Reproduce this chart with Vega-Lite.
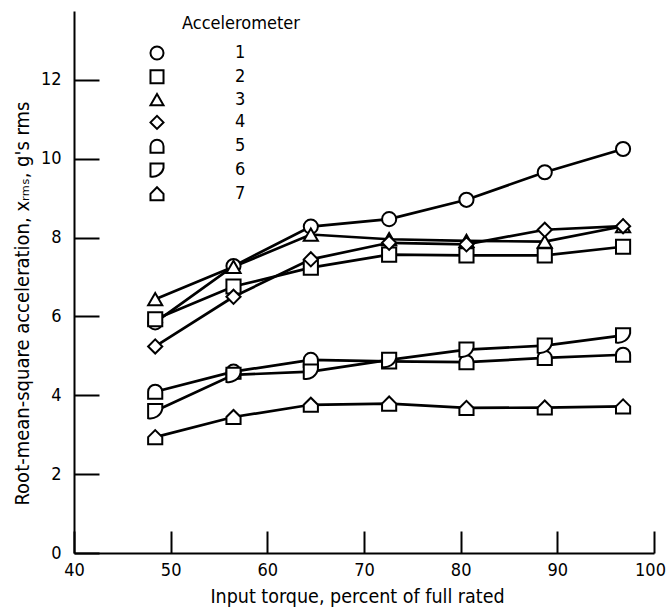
{
  "$schema": "https://vega.github.io/schema/vega-lite/v6.json",
  "width": 580,
  "height": 542,
  "autosize": {"type": "none"},
  "padding": {"left": 74, "top": 11, "right": 12, "bottom": 54},
  "background": "white",
  "title": {
    "text": "Accelerometer",
    "anchor": "start",
    "frame": "group",
    "orient": "top",
    "dx": 108,
    "dy": 35,
    "offset": 4,
    "baseline": "middle",
    "fontSize": 18,
    "fontWeight": "normal",
    "color": "black",
    "font": "DejaVu Sans Condensed, Liberation Sans Narrow, sans-serif"
  },
  "config": {
    "view": {"stroke": null},
    "font": "DejaVu Sans Condensed, Liberation Sans Narrow, sans-serif",
    "axis": {
      "grid": false,
      "domainColor": "black",
      "domainWidth": 2,
      "tickColor": "black",
      "tickWidth": 2,
      "labelColor": "black",
      "labelFontSize": 18,
      "titleColor": "black",
      "titleFontWeight": "normal",
      "labelFont": "DejaVu Sans Condensed, Liberation Sans Narrow, sans-serif",
      "titleFont": "DejaVu Sans Condensed, Liberation Sans Narrow, sans-serif"
    },
    "legend": {
      "labelFont": "DejaVu Sans Condensed, Liberation Sans Narrow, sans-serif",
      "titleFont": "DejaVu Sans Condensed, Liberation Sans Narrow, sans-serif"
    }
  },
  "data": {
    "values": [
      {"torque": 48.4, "rms": 5.85, "acc": "1"},
      {"torque": 56.5, "rms": 7.28, "acc": "1"},
      {"torque": 64.5, "rms": 8.28, "acc": "1"},
      {"torque": 72.6, "rms": 8.47, "acc": "1"},
      {"torque": 80.6, "rms": 8.96, "acc": "1"},
      {"torque": 88.7, "rms": 9.66, "acc": "1"},
      {"torque": 96.8, "rms": 10.25, "acc": "1"},
      {"torque": 48.4, "rms": 5.93, "acc": "2"},
      {"torque": 56.5, "rms": 6.76, "acc": "2"},
      {"torque": 64.5, "rms": 7.24, "acc": "2"},
      {"torque": 72.6, "rms": 7.57, "acc": "2"},
      {"torque": 80.6, "rms": 7.55, "acc": "2"},
      {"torque": 88.7, "rms": 7.55, "acc": "2"},
      {"torque": 96.8, "rms": 7.77, "acc": "2"},
      {"torque": 48.4, "rms": 6.44, "acc": "3"},
      {"torque": 56.5, "rms": 7.26, "acc": "3"},
      {"torque": 64.5, "rms": 8.08, "acc": "3"},
      {"torque": 72.6, "rms": 7.96, "acc": "3"},
      {"torque": 80.6, "rms": 7.92, "acc": "3"},
      {"torque": 88.7, "rms": 7.9, "acc": "3"},
      {"torque": 96.8, "rms": 8.29, "acc": "3"},
      {"torque": 48.4, "rms": 5.24, "acc": "4"},
      {"torque": 56.5, "rms": 6.5, "acc": "4"},
      {"torque": 64.5, "rms": 7.45, "acc": "4"},
      {"torque": 72.6, "rms": 7.87, "acc": "4"},
      {"torque": 80.6, "rms": 7.83, "acc": "4"},
      {"torque": 88.7, "rms": 8.2, "acc": "4"},
      {"torque": 96.8, "rms": 8.29, "acc": "4"},
      {"torque": 48.4, "rms": 4.09, "acc": "5"},
      {"torque": 56.5, "rms": 4.6, "acc": "5"},
      {"torque": 64.5, "rms": 4.9, "acc": "5"},
      {"torque": 72.6, "rms": 4.86, "acc": "5"},
      {"torque": 80.6, "rms": 4.84, "acc": "5"},
      {"torque": 88.7, "rms": 4.95, "acc": "5"},
      {"torque": 96.8, "rms": 5.03, "acc": "5"},
      {"torque": 48.4, "rms": 3.6, "acc": "6"},
      {"torque": 56.5, "rms": 4.52, "acc": "6"},
      {"torque": 64.5, "rms": 4.6, "acc": "6"},
      {"torque": 72.6, "rms": 4.9, "acc": "6"},
      {"torque": 80.6, "rms": 5.16, "acc": "6"},
      {"torque": 88.7, "rms": 5.26, "acc": "6"},
      {"torque": 96.8, "rms": 5.52, "acc": "6"},
      {"torque": 48.4, "rms": 2.94, "acc": "7"},
      {"torque": 56.5, "rms": 3.45, "acc": "7"},
      {"torque": 64.5, "rms": 3.76, "acc": "7"},
      {"torque": 72.6, "rms": 3.79, "acc": "7"},
      {"torque": 80.6, "rms": 3.68, "acc": "7"},
      {"torque": 88.7, "rms": 3.69, "acc": "7"},
      {"torque": 96.8, "rms": 3.72, "acc": "7"}
    ]
  },
  "encoding": {
    "x": {
      "field": "torque",
      "type": "quantitative",
      "scale": {"domain": [40, 100], "nice": false, "zero": false},
      "axis": {
        "title": "Input torque, percent of full rated",
        "values": [40, 50, 60, 70, 80, 90, 100],
        "tickSize": -22,
        "labelPadding": 30,
        "labelFlush": false,
        "labelOffset": {"condition": {"test": "datum.value == 100", "value": -4}, "value": 0},
        "titleFontSize": 19.5,
        "titleX": 283,
        "titleY": 43,
        "titleBaseline": "middle"
      }
    },
    "y": {
      "field": "rms",
      "type": "quantitative",
      "scale": {"domain": [0, 13.75], "nice": false},
      "axis": {
        "title": "Root-mean-square acceleration, xᵣₘₛ, g's rms",
        "values": [0, 2, 4, 6, 8, 10, 12],
        "tickSize": -25,
        "labelPadding": 38,
        "labelFlush": false,
        "titleFontSize": 20,
        "titleX": -52,
        "titleY": 292,
        "titleAngle": -90,
        "titleBaseline": "middle",
        "titleAlign": "center"
      }
    }
  },
  "layer": [
    {
      "mark": {"type": "line", "color": "black", "strokeWidth": 2.7},
      "encoding": {"detail": {"field": "acc"}}
    },
    {
      "mark": {"type": "point", "filled": false, "color": "black", "fill": "white", "fillOpacity": 1, "strokeWidth": 2, "size": 200},
      "encoding": {
        "shape": {
          "field": "acc",
          "type": "nominal",
          "scale": {
            "domain": ["1", "2", "3", "4", "5", "6", "7"],
            "range": [
              "circle",
              "square",
              "triangle-up",
              "diamond",
              "M-1,1L-1,0A1,1 0 0 1 1,0L1,1Z",
              "M-1,-1L1,-1L1,-0.3A1.7,1.7 0 0 1 -1,1Z",
              "M-1,1L-1,0L0,-1L1,0L1,1Z"
            ]
          },
          "legend": {
            "title": null,
            "orient": "none",
            "legendX": 74,
            "legendY": 33,
            "labelFontSize": 18,
            "labelColor": "black",
            "symbolSize": 170,
            "symbolStrokeWidth": 2,
            "labelOffset": 69,
            "rowPadding": 1.8
          }
        }
      }
    }
  ]
}
